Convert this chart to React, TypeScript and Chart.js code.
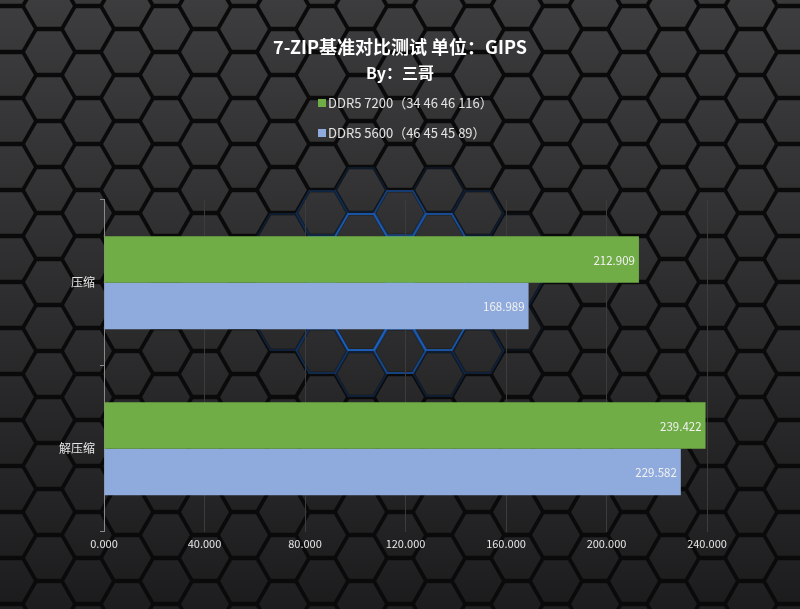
import React, { useEffect, useRef } from "react";
import { Chart, registerables } from "chart.js";
Chart.register(...registerables);

const categories = ["压缩", "解压缩"];
const seriesNames = ["DDR5 7200（34 46 46 116）", "DDR5 5600（46 45 45 89）"];
const ddr5_7200 = [212.909, 239.422];
const ddr5_5600 = [168.989, 229.582];
const seriesColors = ["#70ad47", "#8faadc"];
const xMin = 0;
const xMax = 240;
const xStep = 40;
const titleText = "7-ZIP基准对比测试 单位：GIPS";
const subtitleText = "By：三哥";

const FONT = "'Noto Sans CJK SC', 'Noto Sans', sans-serif";

function lerp(a: number, b: number, t: number) {
  return a + (b - a) * t;
}

const hexBackground = {
  id: "hexBackground",
  beforeDraw(chart: any) {
    const ctx: CanvasRenderingContext2D = chart.ctx;
    const W = chart.width;
    const H = chart.height;
    ctx.save();
    ctx.fillStyle = "#0a0a0a";
    ctx.fillRect(0, 0, W, H);
    const R = 26;
    const colStep = 39;
    const rowStep = 46;
    const hexPath = (cx: number, cy: number, r: number) => {
      ctx.beginPath();
      for (let i = 0; i < 6; i++) {
        const a = (Math.PI / 3) * i;
        const px = cx + r * Math.cos(a);
        const py = cy + r * Math.sin(a);
        if (i === 0) ctx.moveTo(px, py);
        else ctx.lineTo(px, py);
      }
      ctx.closePath();
    };
    const cells: { x: number; y: number }[] = [];
    for (let c = -2; c * colStep < W + colStep * 2; c++) {
      const cx = 49 + c * colStep;
      const off = c % 2 === 0 ? 52 : 29;
      for (let r = -2; r * rowStep < H + rowStep * 2; r++) {
        cells.push({ x: cx, y: off + r * rowStep });
      }
    }
    for (const p of cells) {
      const t = Math.min(1, Math.max(0, p.y / H));
      const v = Math.round(lerp(60, 30, t));
      const g = ctx.createLinearGradient(p.x, p.y - R, p.x, p.y + R);
      g.addColorStop(0, `rgb(${v + 3},${v + 3},${v + 5})`);
      g.addColorStop(1, `rgb(${v - 4},${v - 4},${v - 3})`);
      ctx.fillStyle = g;
      hexPath(p.x, p.y, R - 2.1);
      ctx.fill();
    }
    // blue glow in the middle
    const gx = 392;
    const gy = 285;
    for (const p of cells) {
      const dx = (p.x - gx) / 145;
      const dy = (p.y - gy) / 110;
      const d = Math.sqrt(dx * dx + dy * dy);
      if (d < 1) {
        const a = Math.min(0.9, (1 - d) * 1.4);
        ctx.strokeStyle = `rgba(35,115,225,${a.toFixed(3)})`;
        ctx.lineWidth = 2;
        hexPath(p.x, p.y, R - 0.6);
        ctx.stroke();
      }
    }
    ctx.restore();
  },
};

const barLabels = {
  id: "barLabels",
  afterDatasetsDraw(chart: any) {
    const ctx: CanvasRenderingContext2D = chart.ctx;
    ctx.save();
    ctx.font = `11.5px ${FONT}`;
    ctx.fillStyle = "#f2f2f2";
    ctx.textAlign = "right";
    ctx.textBaseline = "middle";
    chart.data.datasets.forEach((ds: any, i: number) => {
      const meta = chart.getDatasetMeta(i);
      meta.data.forEach((el: any, j: number) => {
        const v = ds.data[j] as number;
        ctx.fillText(v.toFixed(3), el.x - 4, el.y + 1);
      });
    });
    ctx.restore();
  },
};

const stackedLegend = {
  id: "stackedLegend",
  afterDraw(chart: any) {
    const ctx: CanvasRenderingContext2D = chart.ctx;
    ctx.save();
    ctx.font = `13px ${FONT}`;
    ctx.textBaseline = "middle";
    ctx.textAlign = "left";
    const labels: string[] = chart.data.datasets.map((d: any) => d.label);
    const box = 8;
    const gap = 2;
    const left = 318;
    const ys = [103, 133];
    labels.forEach((lab, i) => {
      const y = ys[i];
      ctx.fillStyle = chart.data.datasets[i].backgroundColor;
      ctx.fillRect(left, y - box / 2, box, box);
      ctx.fillStyle = "#e4e4e4";
      ctx.fillText(lab, left + box + gap, y);
    });
    ctx.restore();
  },
};

export default function App() {
  const ref = useRef<HTMLCanvasElement | null>(null);
  useEffect(() => {
    if (!ref.current) return;
    const chart = new Chart(ref.current, {
      type: "bar",
      data: {
        labels: categories,
        datasets: [
          {
            label: seriesNames[0],
            data: ddr5_7200,
            backgroundColor: seriesColors[0],
            borderWidth: 0,
          },
          {
            label: seriesNames[1],
            data: ddr5_5600,
            backgroundColor: seriesColors[1],
            borderWidth: 0,
          },
        ],
      },
      options: {
        indexAxis: "y",
        animation: false,
        responsive: true,
        maintainAspectRatio: false,
        layout: { padding: { top: 0, left: 0, right: 0, bottom: 54 } },
        datasets: {
          bar: { categoryPercentage: 0.56, barPercentage: 1 },
        },
        scales: {
          x: {
            min: xMin,
            max: xMax,
            border: { display: false },
            grid: { color: "#3c3c3c", lineWidth: 1, drawTicks: false },
            ticks: {
              stepSize: xStep,
              padding: 5,
              color: "#e6e6e6",
              font: { family: FONT, size: 11 },
              callback: (v: any) => Number(v).toFixed(3),
            },
          },
          y: {
            border: { display: true, color: "#8a8a8a", width: 1 },
            grid: {
              offset: true,
              drawOnChartArea: false,
              drawTicks: true,
              tickLength: 4,
              color: "#8a8a8a",
            },
            ticks: {
              padding: 5,
              color: "#e6e6e6",
              font: { family: FONT, size: 12 },
            },
            afterFit: (s: any) => {
              s.width = 104;
            },
          },
          yRight: {
            type: "category",
            position: "right",
            display: true,
            border: { display: false },
            grid: { display: false, drawTicks: false },
            ticks: { display: false },
            afterFit: (s: any) => {
              s.width = 93;
            },
          },
        },
        plugins: {
          legend: { display: false },
          tooltip: { enabled: false },
          title: {
            display: true,
            text: titleText,
            color: "#ffffff",
            font: { family: FONT, size: 18, weight: "bold" },
            padding: { top: 36, bottom: 6 },
          },
          subtitle: {
            display: true,
            text: subtitleText,
            color: "#ffffff",
            font: { family: FONT, size: 16, weight: "bold" },
            padding: { top: 0, bottom: 117 },
          },
        },
      },
      plugins: [hexBackground, barLabels, stackedLegend],
    } as any);
    return () => chart.destroy();
  }, []);
  return (
    <div
      style={{
        position: "absolute",
        left: 0,
        top: 0,
        width: 800,
        height: 609,
      }}
    >
      <canvas ref={ref} />
    </div>
  );
}
